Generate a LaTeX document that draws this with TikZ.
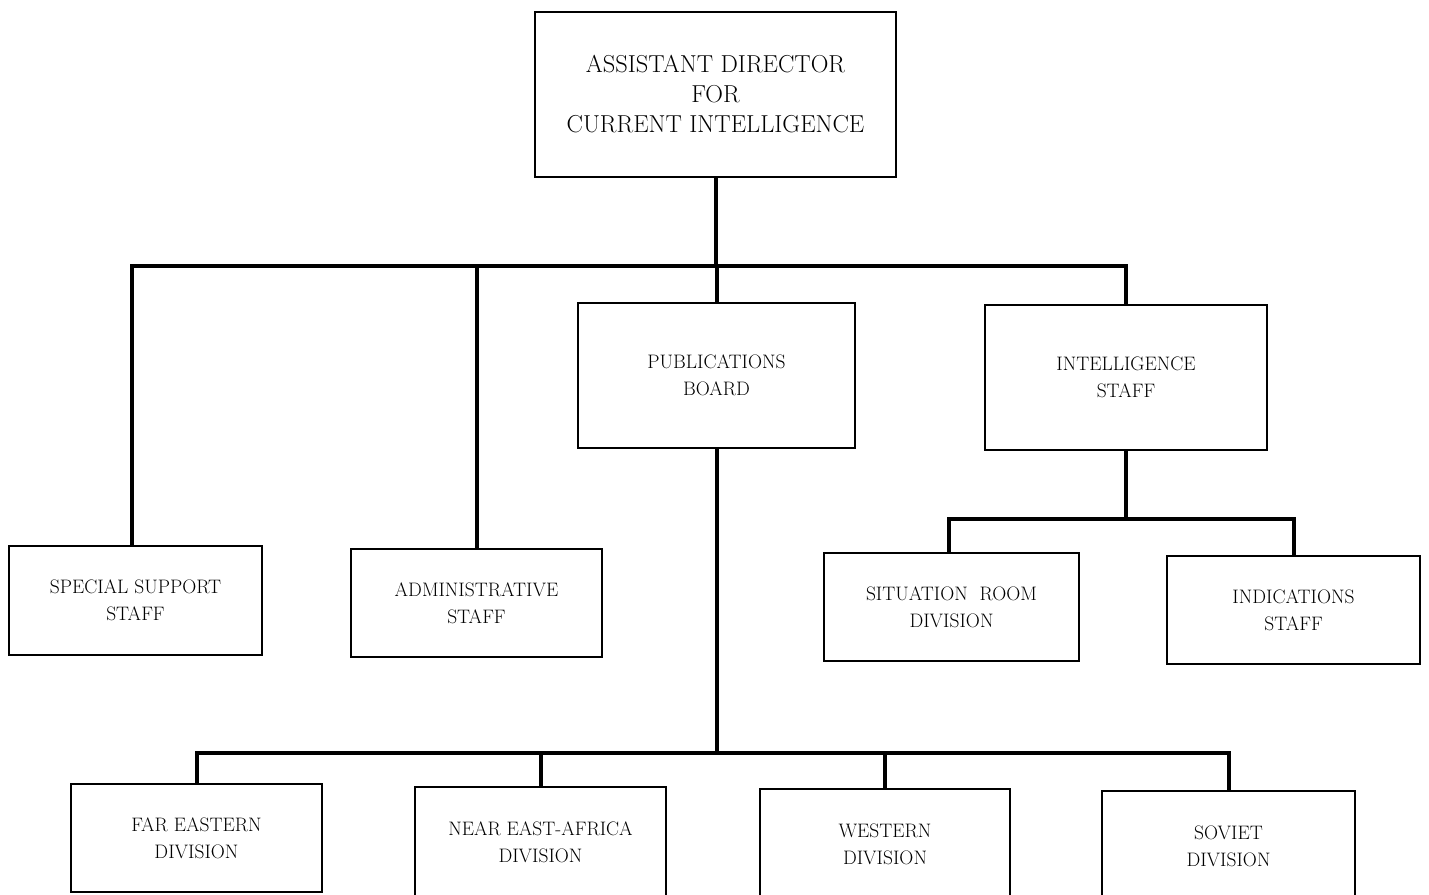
\documentclass[tikz,border=0pt]{standalone}
\begin{document}
\begin{tikzpicture}[x=1pt,y=-1pt,
  box/.style={draw, line width=1.8pt, inner sep=0pt, align=center, font=\fontsize{19.5}{27}\selectfont},
  topbox/.style={box, font=\fontsize{24.5}{30}\selectfont},
  link/.style={line width=4pt}]
\useasboundingbox (0,0) rectangle (1429,894);
\clip (0,0) rectangle (1429,894);
\fill[white] (0,0) rectangle (1429,894);

\node[topbox, minimum width=361pt, minimum height=165pt] (ad) at (715.5,94.5) {ASSISTANT DIRECTOR\\FOR\\CURRENT INTELLIGENCE};
\node[box, minimum width=253pt, minimum height=109pt] (ss) at (135.5,600.5) {SPECIAL SUPPORT\\STAFF};
\node[box, minimum width=251pt, minimum height=108pt] (as) at (476.5,603) {ADMINISTRATIVE\\STAFF};
\node[box, minimum width=277pt, minimum height=145pt] (pb) at (716.5,375.5) {PUBLICATIONS\\BOARD};
\node[box, minimum width=282pt, minimum height=145pt] (is) at (1126,377.5) {INTELLIGENCE\\STAFF};
\node[box, minimum width=255pt, minimum height=108pt] (sr) at (951.5,607) {SITUATION\hspace{0.6em}ROOM\\DIVISION};
\node[box, minimum width=253pt, minimum height=108pt] (in) at (1293.5,610) {INDICATIONS\\STAFF};
\node[box, minimum width=251pt, minimum height=108pt] (fe) at (196.5,838) {FAR EASTERN\\DIVISION};
\node[box, minimum width=251pt, minimum height=110pt] (ne) at (540.5,842) {NEAR EAST-AFRICA\\DIVISION};
\node[box, minimum width=250pt, minimum height=110pt] (we) at (885,844) {WESTERN\\DIVISION};
\node[box, minimum width=253pt, minimum height=110pt] (so) at (1228.5,846) {SOVIET\\DIVISION};

\coordinate (b1) at (0,266);
\coordinate (b2) at (0,519);
\coordinate (b3) at (0,753);
\coordinate (ssin) at ([xshift=-3.5pt]ss.north);
\coordinate (srin) at ([xshift=-2.5pt]sr.north);

\draw[link] (ad.south) -- (ad.south |- b1);
\draw[link] (ssin) -- (ssin |- b1) -- (is.north |- b1) -- (is.north);
\draw[link] (as.north) -- (as.north |- b1);
\draw[link] (pb.north) -- (pb.north |- b1);

\draw[link] (is.south) -- (is.south |- b2);
\draw[link] (srin) -- (srin |- b2) -- (in.north |- b2) -- (in.north);

\draw[link] (pb.south) -- (pb.south |- b3);
\draw[link] (fe.north) -- (fe.north |- b3) -- (so.north |- b3) -- (so.north);
\draw[link] (ne.north) -- (ne.north |- b3);
\draw[link] (we.north) -- (we.north |- b3);
\end{tikzpicture}
\end{document}
